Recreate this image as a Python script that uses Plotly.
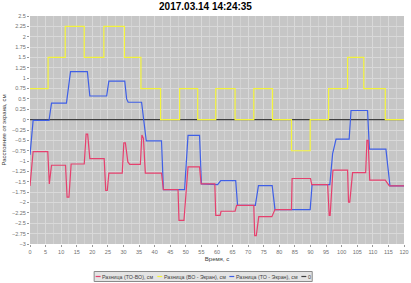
import plotly.graph_objects as go

# Series: Разница (ТО-ВО), см  (red)
red_x = [0, 1.0, 5.7, 6.2, 6.9, 11.4, 11.9, 12.5, 13.2, 17.4, 18.0, 18.5, 19.2,
         23.8, 24.3, 24.8, 25.3, 29.6, 30.1, 30.6, 31.4, 32.0, 35.4, 35.9, 36.4,
         37.0, 42.2, 42.8, 47.5, 47.8, 49.4, 50.7, 54.4, 54.9, 59.3, 59.6, 61.0,
         61.3, 65.8, 66.3, 71.8, 72.1, 72.6, 73.4, 77.6, 78.6, 83.9, 84.1, 90.0,
         90.4, 95.5, 96.0, 96.3, 97.2, 101.9, 102.2, 102.6, 103.5, 107.7, 108.1,
         108.5, 109.0, 114.0, 115.3, 120]
red_y = [-1.6, -0.77, -0.77, -1.55, -1.10, -1.10, -1.87, -1.87, -1.07, -1.07, -0.35,
         -0.35, -0.94, -0.94, -1.71, -1.71, -1.29, -1.29, -0.56, -0.56, -1.02, -1.08,
         -1.08, -0.37, -0.45, -1.29, -1.29, -1.69, -1.69, -2.43, -2.43, -1.14, -1.14,
         -1.55, -1.55, -2.31, -2.31, -2.21, -2.21, -2.07, -2.07, -2.80, -2.80, -2.34,
         -2.34, -2.17, -2.17, -1.42, -1.42, -1.57, -1.57, -2.31, -2.31, -1.22, -1.22,
         -1.99, -1.99, -1.28, -1.28, -0.50, -0.50, -1.46, -1.46, -1.60, -1.60]

# Series: Разница (ВО - Экран), см  (yellow, stepped)
yel_x = [0, 5.8, 11.3, 17.4, 23.7, 30.3, 35.6, 41.9, 48.0, 53.8, 59.6, 65.8, 71.8,
         77.8, 83.9, 89.9, 95.8, 101.9, 107.1, 114.0, 120]
yel_y = [0.75, 1.5, 2.25, 1.5, 2.25, 1.5, 0.75, 0, 0.75, 0, 0.75, 0, 0.75,
         0, -0.75, 0, 0.75, 1.5, 0.75, 0, 0]

# Series: Разница (ТО - Экран), см  (blue)
blu_x = [0, 1.0, 6.1, 6.9, 11.7, 13.0, 18.4, 19.2, 24.6, 25.3, 30.4, 31.0, 31.5,
         35.8, 37.3, 42.2, 42.8, 49.6, 50.7, 54.4, 55.0, 60.2, 61.2, 66.0, 66.6,
         72.3, 73.3, 77.7, 78.6, 89.9, 90.5, 96.2, 97.1, 98.2, 102.4, 103.0, 108.3,
         108.9, 114.2, 115.5, 120]
blu_y = [-0.85, -0.02, -0.02, 0.40, 0.40, 1.16, 1.16, 0.57, 0.57, 0.93, 0.93, 0.50,
         0.42, 0.42, -0.51, -0.51, -1.69, -1.69, -0.38, -0.38, -1.55, -1.57, -1.47,
         -1.47, -2.07, -2.07, -1.59, -1.59, -2.17, -2.17, -1.57, -1.57, -0.82, -0.47,
         -0.47, 0.22, 0.22, -0.71, -0.71, -1.60, -1.60]

# Series: 0  (reference line)
zero_x = [0, 120]
zero_y = [0, 0]

names = ["Разница (ТО-ВО), см", "Разница (ВО - Экран), см", "Разница (ТО - Экран), см", "0"]
colors = ["#e6406e", "#f4f43c", "#3f5fe6", "#404040"]

fig = go.Figure()
fig.add_trace(go.Scatter(x=zero_x, y=zero_y, mode="lines", name=names[3],
                         line=dict(color=colors[3], width=1.2), showlegend=False))
fig.add_trace(go.Scatter(x=blu_x, y=blu_y, mode="lines", name=names[2],
                         line=dict(color=colors[2], width=1.2), showlegend=False))
fig.add_trace(go.Scatter(x=yel_x, y=yel_y, mode="lines", name=names[1],
                         line=dict(color=colors[1], width=1.2, shape="hv"), showlegend=False))
fig.add_trace(go.Scatter(x=red_x, y=red_y, mode="lines", name=names[0],
                         line=dict(color=colors[0], width=1.2), showlegend=False))

# compact legend drawn below the plot (paper coordinates)
L, W, B, H = 30, 379, 244, 228
def px_x(p):
    return (p - L) / W
def px_y(p):
    return (B - p) / H

leg_font = dict(family="Liberation Sans", size=5.3, color="#404040")
shapes = [dict(type="rect", xref="paper", yref="paper",
               x0=px_x(95), x1=px_x(316), y0=px_y(281.5), y1=px_y(271.5),
               fillcolor="#e4e4e4", line=dict(color="#8a8a8a", width=1), layer="below")]
annotations = []
item_starts = [96.5, 159.0, 232.0, 305.0]
ly = px_y(276.5)
for name, col, s in zip(names, colors, item_starts):
    shapes.append(dict(type="line", xref="paper", yref="paper",
                       x0=px_x(s), x1=px_x(s + 5), y0=ly, y1=ly,
                       line=dict(color=col, width=1.2)))
    annotations.append(dict(text=name, xref="paper", yref="paper", x=px_x(s + 5.5), y=ly,
                            xanchor="left", yanchor="middle", showarrow=False,
                            font=leg_font, borderpad=0))

tickfont = dict(family="Liberation Sans", size=5.5, color="#707070")
fig.update_layout(
    width=411, height=283,
    margin=dict(l=30, r=2, t=16, b=39),
    paper_bgcolor="white",
    plot_bgcolor="#c6c6c6",
    title=dict(text="<b>2017.03.14 14:24:35</b>", x=0.5, xref="container", xanchor="center",
               y=0.99, yref="container", yanchor="top",
               font=dict(family="Liberation Sans", size=10, color="#000000")),
    showlegend=False,
    shapes=shapes,
    annotations=annotations,
    xaxis=dict(range=[0, 120], dtick=5, tick0=0, showgrid=True, gridcolor="#d9d9d9",
               gridwidth=1, zeroline=False, ticks="outside", ticklen=2, tickcolor="#999",
               tickfont=tickfont, ticklabeloverflow="allow",
               minor=dict(dtick=2.5, showgrid=True, gridcolor="#d2d2d2", gridwidth=1),
               title=dict(text="Время, с", standoff=3,
                          font=dict(family="Liberation Sans", size=6, color="#404040"))),
    yaxis=dict(range=[-3, 2.5], dtick=0.25, tick0=0, showgrid=True, gridcolor="#d9d9d9",
               gridwidth=1, zeroline=False, ticks="outside", ticklen=2, tickcolor="#999",
               tickfont=tickfont, ticklabeloverflow="allow",
               title=dict(text="Расстояние от экрана, см", standoff=4,
                          font=dict(family="Liberation Sans", size=6, color="#404040"))),
)

fig.write_html("out.html")
